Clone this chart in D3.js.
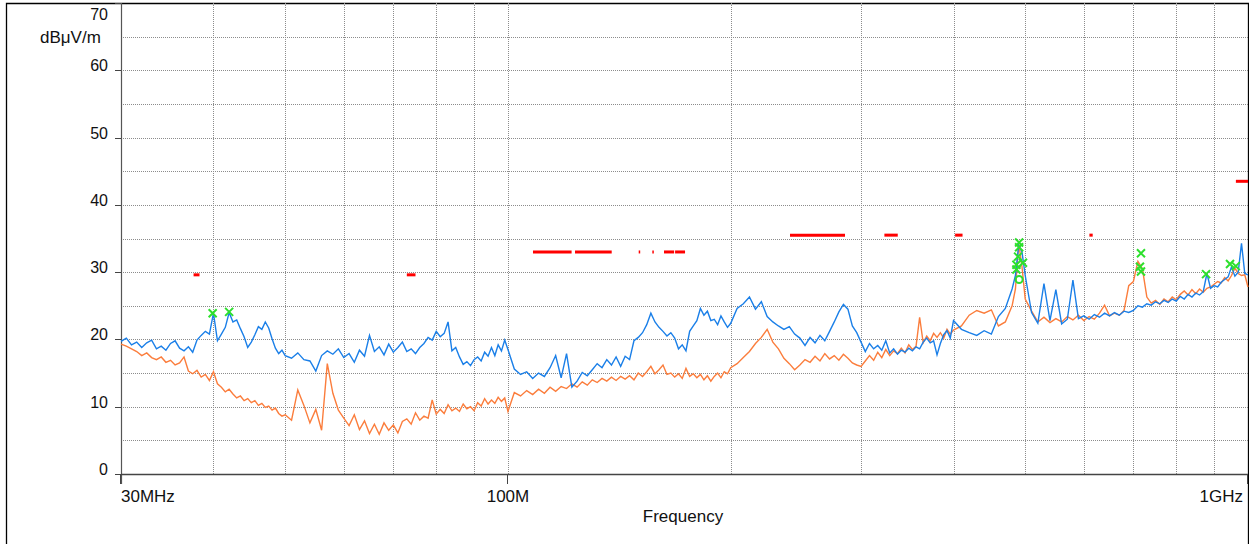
<!DOCTYPE html>
<html lang="en">
<head>
  <meta charset="utf-8"/>
  <title>Radiated emission scan</title>
  <script src="https://cdn.jsdelivr.net/npm/d3@7/dist/d3.min.js"></script>
  <style>
    html, body { margin:0; padding:0; background:#fff; overflow:hidden; }
    svg { display:block; font-family:"Liberation Sans", Arial, sans-serif; }
    .grid line { stroke:#8c8c8c; stroke-width:1; stroke-dasharray:1,1; shape-rendering:crispEdges; }
    .tick-label { font-size:16px; fill:#111; }
    .x-label { font-size:17px; fill:#111; }
  </style>
</head>
<body>
<svg id="chart" width="1249" height="544"></svg>
<script>
// frequency points (MHz)
const freqs = [
  30,30.5,31,31.5,32,32.5,33,33.5,34,34.5,35,35.5,36,36.5,37,37.5,38,38.5,39,39.5,
  40,40.5,41,41.5,42,42.5,43,43.5,44,44.5,45,45.5,46,46.5,47,47.5,48,48.5,49,49.5,50,
  51,52,53,54,55,56,57,58,59,60,61,62,63,64,65,66,67,68,69,70,71,72,73,74,75,76,77,78,79,
  80,81,82,83,84,85,86,87,88,89,90,91,92,93,94,95,96,97,98,99,100,
  102,104,106,108,110,112,114,116,118,120,122,124,126,128,130,132,134,136,138,140,
  142,144,146,148,150,152,154,156,158,160,162,164,166,168,170,172,174,176,178,180,
  182,184,186,188,190,192,194,196,198,200,
  204,208,212,216,220,224,228,232,236,240,244,248,252,256,260,264,268,272,276,280,
  284,288,292,296,300,304,308,312,316,320,324,328,332,336,340,344,348,352,356,360,
  364,368,372,376,380,384,388,392,396,400,
  410,420,430,440,450,460,470,480,485,490,495,500,510,520,530,540,550,560,570,580,590,
  600,610,620,630,640,650,660,670,680,690,700,710,720,730,740,750,760,770,780,790,
  800,810,820,830,840,850,860,870,880,890,900,910,920,930,940,950,960,970,980,990,1000
];

// peak trace (blue), dBµV/m
const peakVals = [
  19.7,20.2,19.2,19.6,18.8,19.5,19.9,18.6,19.0,18.4,19.4,19.8,18.7,18.3,18.9,18.1,19.9,20.6,21.2,20.8,
  23.9,19.8,20.8,21.8,24.0,22.6,22.9,21.6,20.4,18.8,19.6,20.7,21.9,21.5,22.6,21.7,20.1,18.7,17.9,18.4,17.6,
  17.2,18.0,17.0,16.8,15.3,17.6,18.3,17.8,18.6,17.3,17.9,16.6,18.4,17.5,20.6,18.2,18.9,17.7,19.3,18.1,18.8,19.6,18.2,18.6,17.9,18.8,19.4,20.3,19.9,
  21.2,20.4,20.9,22.6,18.3,18.8,17.4,16.3,16.7,16.1,17.0,17.4,16.8,18.1,17.5,18.8,17.6,19.2,18.3,19.9,18.5,
  15.6,14.8,15.2,14.2,15.0,14.5,15.8,17.6,14.3,17.9,12.9,13.8,15.1,14.6,15.5,16.4,15.8,17.0,16.2,17.4,
  16.0,17.5,17.0,19.8,20.3,21.0,22.2,23.9,22.6,21.8,21.2,20.5,21.0,20.2,18.6,19.2,18.3,21.2,22.0,22.8,
  24.6,23.6,24.2,22.8,23.0,22.2,23.5,22.6,21.8,22.4,
  24.6,25.3,26.3,24.5,25.6,23.4,22.6,22.0,21.5,21.9,20.8,20.2,19.1,20.3,19.5,20.6,19.8,21.2,22.6,24.1,
  25.2,24.5,22.0,21.0,19.6,18.2,19.4,18.6,19.1,18.4,19.8,18.0,18.6,17.8,18.4,18.1,18.7,18.3,18.9,18.6,
  19.6,20.2,19.5,19.8,17.7,19.4,20.7,21.3,20.2,22.8,
  21.5,21.0,20.6,21.3,20.8,23.4,24.6,27.5,29.5,34.0,33.0,29.5,24.0,22.4,28.3,22.8,27.4,22.3,23.0,28.8,23.1,
  23.5,23.0,23.7,23.3,23.9,23.5,24.0,23.6,24.2,24.0,24.3,25.0,24.8,25.3,25.1,25.6,25.3,25.8,25.5,26.0,
  25.7,26.4,26.0,26.7,26.3,26.9,26.6,27.1,29.8,27.6,28.0,27.8,28.5,28.9,29.3,30.8,29.4,30.0,34.3,29.8,29.6
];

// average trace (orange), dBµV/m
const avgVals = [
  19.3,19.0,18.6,18.2,17.6,18.0,17.3,17.0,17.4,16.6,16.9,16.2,16.5,17.4,15.3,14.9,15.4,14.4,14.8,13.9,
  15.2,13.4,12.9,12.2,12.6,11.9,11.3,11.6,10.9,11.2,10.6,10.9,10.2,10.5,9.9,10.1,9.5,9.8,9.0,8.6,8.8,
  8.0,12.5,10.2,7.6,9.6,6.5,16.4,12.0,9.5,8.3,7.2,8.8,6.6,7.9,6.0,7.4,5.9,7.6,6.5,7.3,6.1,7.8,8.2,7.4,9.1,8.0,8.6,8.3,11.0,
  8.9,9.6,9.0,10.3,9.4,9.8,9.3,10.4,9.7,10.0,9.4,10.6,10.1,11.2,10.4,11.0,10.5,11.4,10.8,11.3,9.3,
  12.1,11.6,12.4,11.8,12.6,12.0,12.9,12.3,13.0,12.7,13.4,12.9,13.7,13.2,14.0,13.6,14.2,13.8,14.4,13.9,
  14.5,14.1,14.6,14.0,15.0,14.5,15.2,16.0,14.9,15.5,16.2,14.8,15.0,14.4,14.9,14.2,15.7,14.5,14.9,14.3,
  14.8,14.0,14.6,13.8,14.5,15.0,14.3,15.2,14.9,15.8,
  16.4,17.3,18.2,19.4,20.3,21.5,19.6,18.6,17.2,16.4,15.5,16.2,17.0,16.6,17.5,16.8,17.9,17.1,17.6,16.9,
  17.8,17.2,16.5,16.2,16.0,16.8,17.6,16.9,18.1,17.3,18.5,17.6,18.3,17.9,18.7,18.0,19.2,18.5,19.0,23.3,
  19.5,20.5,19.8,20.9,20.3,21.0,20.2,21.5,20.8,21.4,
  22.0,23.6,24.3,23.9,24.4,22.0,22.6,25.0,27.5,34.3,30.8,26.0,24.2,22.6,23.3,22.5,23.1,22.6,23.4,22.9,23.6,
  22.8,23.4,23.0,23.9,25.1,23.5,23.9,23.6,24.3,28.0,28.6,31.6,30.5,26.3,25.4,25.8,25.2,26.0,25.6,26.3,
  25.9,26.7,27.2,26.6,27.4,26.8,27.5,27.0,27.6,27.8,28.2,28.6,28.4,29.2,28.7,29.5,30.6,29.8,29.5,29.6,27.8
];

// limit pieces: start MHz, stop MHz, level dBµV/m
const limitStart = [37.6, 73.0, 108.1, 123.2, 150.2, 156.7, 162.5, 168.2, 240.5, 322.6, 402, 610.5, 963];
const limitStop  = [38.3, 75.0, 121.9, 138.1, 150.6, 157.1, 167.7, 173.5, 285.4, 336.3, 411.4, 616.8, 1000];
const limitLevel = [29.6, 29.6, 33.0, 33.0, 33.0, 33.0, 33.0, 33.0, 35.5, 35.5, 35.5, 35.5, 43.5];

// final measurement markers
const markFreq  = [39.9, 42.0, 490.6, 490.6, 489.0, 486.5, 496.5, 486.5, 716.8, 714.5, 716.8, 877.7, 945.6, 962.7];
const markLevel = [23.9, 24.1, 34.4, 33.7, 32.3, 31.1, 31.4, 30.4, 32.8, 30.8, 30.1, 29.7, 31.2, 30.9];
const circFreq  = [490.6];
const circLevel = [28.9];

const yTicks = [0,10,20,30,40,50,60,70];
const yGrid  = [5,10,15,20,25,30,35,40,45,50,55,60,65];
const xGrid  = [40,50,60,70,80,90,100,200,300,400,500,600,700,800,900];
const xTickVals = [30, 100, 1000];
const xTickText = ["30MHz", "100M", "1GHz"];

const svg = d3.select("#chart");
const x = d3.scaleLog().domain([30, 1000]).range([121, 1248]);
const y = d3.scaleLinear().domain([0, 70]).range([474, 3]);

// outer frame
svg.append("path")
  .attr("d", "M6.5,544 V3.5 H1248.5 V544")
  .attr("fill", "none").attr("stroke", "#000").attr("stroke-width", 1.3);

// grid
const g = svg.append("g").attr("class", "grid");
g.selectAll(".h").data(yGrid).join("line")
  .attr("x1", 121).attr("x2", 1248)
  .attr("y1", d => Math.round(y(d)) + 0.5).attr("y2", d => Math.round(y(d)) + 0.5);
g.selectAll(".v").data(xGrid).join("line")
  .attr("y1", 3).attr("y2", 474)
  .attr("x1", d => Math.round(x(d)) + 0.5).attr("x2", d => Math.round(x(d)) + 0.5);

// axes lines
svg.append("line").attr("x1", 121.5).attr("x2", 121.5).attr("y1", 3).attr("y2", 484)
  .attr("stroke", "#555").attr("stroke-width", 1.2);
svg.append("line").attr("x1", 121).attr("x2", 1248).attr("y1", 474.5).attr("y2", 474.5)
  .attr("stroke", "#444").attr("stroke-width", 1.4);

// y ticks
svg.selectAll(".ytick").data(yTicks).join("line")
  .attr("x1", 115).attr("x2", 121)
  .attr("y1", d => Math.round(y(d)) + 0.5).attr("y2", d => Math.round(y(d)) + 0.5)
  .attr("stroke", "#444");
svg.selectAll(".ylab").data(yTicks).join("text")
  .attr("class", "tick-label")
  .attr("x", 108)
  .attr("y", d => d === 70 ? 20 : y(d) + 1)
  .attr("text-anchor", "end")
  .text(d => d);

svg.append("text").attr("class", "x-label")
  .attr("x", 40).attr("y", 43).text("dBμV/m");

// x ticks
svg.selectAll(".xtick").data(xTickVals).join("line")
  .attr("x1", d => Math.round(x(d)) - 0.5).attr("x2", d => Math.round(x(d)) - 0.5)
  .attr("y1", 474).attr("y2", 484)
  .attr("stroke", "#444");
svg.selectAll(".xlab").data(xTickVals).join("text")
  .attr("class", "x-label")
  .attr("x", (d, i) => i === 0 ? 121 : i === 2 ? 1243 : x(d))
  .attr("y", 502)
  .attr("text-anchor", (d, i) => i === 0 ? "start" : i === 2 ? "end" : "middle")
  .text((d, i) => xTickText[i]);

svg.append("text").attr("class", "x-label")
  .attr("x", 683).attr("y", 522).attr("text-anchor", "middle")
  .text("Frequency");

// traces
const line = d3.line().x(d => x(d[0])).y(d => y(d[1]));
const avgData  = freqs.map((f, i) => [f, avgVals[i]]);
const peakData = freqs.map((f, i) => [f, peakVals[i]]);

svg.append("path").datum(avgData)
  .attr("d", line).attr("fill", "none")
  .attr("stroke", "#fb7d3c").attr("stroke-width", 1.4);
svg.append("path").datum(peakData)
  .attr("d", line).attr("fill", "none")
  .attr("stroke", "#1a7fe8").attr("stroke-width", 1.4);

// limit pieces
svg.selectAll(".lim").data(limitLevel).join("line")
  .attr("x1", (d, i) => x(limitStart[i]))
  .attr("x2", (d, i) => Math.max(x(limitStop[i]), x(limitStart[i]) + 1.5))
  .attr("y1", d => y(d)).attr("y2", d => y(d))
  .attr("stroke", "#ff0000").attr("stroke-width", 3);

// markers
svg.selectAll(".mk").data(markLevel).join("path")
  .attr("transform", (d, i) => `translate(${x(markFreq[i])},${y(d)})`)
  .attr("d", "M-4,-4L4,4M-4,4L4,-4")
  .attr("stroke", "#2de02d").attr("stroke-width", 2).attr("fill", "none");
svg.selectAll(".ck").data(circLevel).join("circle")
  .attr("cx", (d, i) => x(circFreq[i])).attr("cy", d => y(d))
  .attr("r", 3.5)
  .attr("stroke", "#2de02d").attr("stroke-width", 2).attr("fill", "none");
</script>
</body>
</html>
